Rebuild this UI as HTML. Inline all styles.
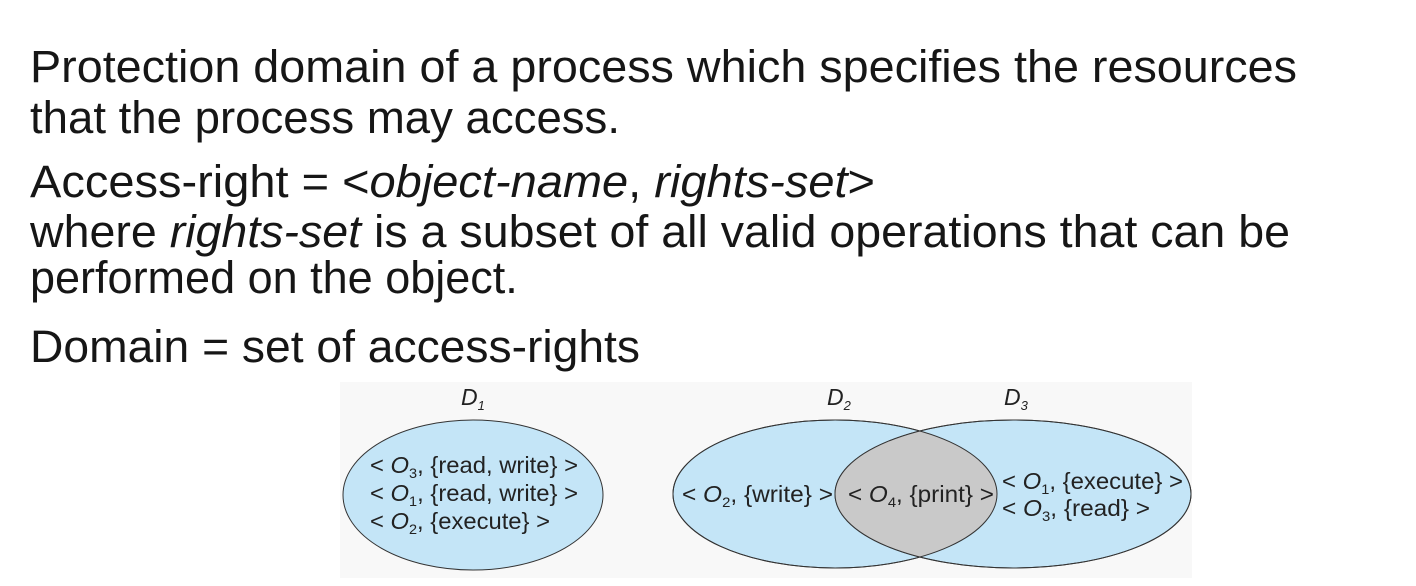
<!DOCTYPE html>
<html><head><meta charset="utf-8"><style>
html,body{margin:0;padding:0;background:#fff;}
svg{display:block;}
.t{font-family:"Liberation Sans",sans-serif;font-size:45px;fill:#161616;}
.d{font-family:"Liberation Sans",sans-serif;font-size:23px;fill:#222;}
</style></head><body>
<svg width="1416" height="586" viewBox="0 0 1416 586" xmlns="http://www.w3.org/2000/svg">
<rect width="1416" height="586" fill="#fff"/>
<text class="t" x="30" y="82" textLength="1267" lengthAdjust="spacingAndGlyphs">Protection domain of a process which specifies the resources</text>
<text class="t" x="30" y="133" textLength="590" lengthAdjust="spacingAndGlyphs">that the process may access.</text>
<text class="t" x="30" y="197" textLength="845" lengthAdjust="spacingAndGlyphs">Access-right = &lt;<tspan font-style="italic">object-name</tspan>, <tspan font-style="italic">rights-set</tspan>&gt;</text>
<text class="t" x="30" y="247" textLength="1260" lengthAdjust="spacingAndGlyphs">where <tspan font-style="italic">rights-set</tspan> is a subset of all valid operations that can be</text>
<text class="t" x="30" y="293">performed on the object.</text>
<text class="t" x="30" y="362" textLength="610" lengthAdjust="spacingAndGlyphs">Domain = set of access-rights</text>

<rect x="340" y="382" width="852" height="196" fill="#f8f8f8"/>
<defs><clipPath id="c2"><ellipse cx="835" cy="494" rx="162" ry="74"/></clipPath></defs>
<ellipse cx="473" cy="495" rx="130" ry="75" fill="#c4e5f7" stroke="#333" stroke-width="1"/>
<ellipse cx="835" cy="494" rx="162" ry="74" fill="#c4e5f7" stroke="#333" stroke-width="1"/>
<ellipse cx="1013" cy="494" rx="178" ry="74" fill="#c4e5f7" stroke="#333" stroke-width="1"/>
<ellipse cx="1013" cy="494" rx="178" ry="74" fill="#c9c9c9" clip-path="url(#c2)"/>
<ellipse cx="835" cy="494" rx="162" ry="74" fill="none" stroke="#333" stroke-width="1"/>
<ellipse cx="1013" cy="494" rx="178" ry="74" fill="none" stroke="#333" stroke-width="1"/>

<text class="d" x="461" y="405" font-style="italic">D<tspan font-size="13" dy="5">1</tspan></text>
<text class="d" x="827" y="405" font-style="italic">D<tspan font-size="13" dy="5">2</tspan></text>
<text class="d" x="1004" y="405" font-style="italic">D<tspan font-size="13" dy="5">3</tspan></text>

<text class="d" x="370" y="473" textLength="208" lengthAdjust="spacingAndGlyphs">&lt; <tspan font-style="italic">O</tspan><tspan font-size="14" dy="5">3</tspan><tspan dy="-5">, {read, write} &gt;</tspan></text>
<text class="d" x="370" y="501" textLength="208" lengthAdjust="spacingAndGlyphs">&lt; <tspan font-style="italic">O</tspan><tspan font-size="14" dy="5">1</tspan><tspan dy="-5">, {read, write} &gt;</tspan></text>
<text class="d" x="370" y="529" textLength="180" lengthAdjust="spacingAndGlyphs">&lt; <tspan font-style="italic">O</tspan><tspan font-size="14" dy="5">2</tspan><tspan dy="-5">, {execute} &gt;</tspan></text>
<text class="d" x="682" y="502" textLength="151" lengthAdjust="spacingAndGlyphs">&lt; <tspan font-style="italic">O</tspan><tspan font-size="14" dy="5">2</tspan><tspan dy="-5">, {write} &gt;</tspan></text>
<text class="d" x="848" y="502" textLength="146" lengthAdjust="spacingAndGlyphs">&lt; <tspan font-style="italic">O</tspan><tspan font-size="14" dy="5">4</tspan><tspan dy="-5">, {print} &gt;</tspan></text>
<text class="d" x="1002" y="489" textLength="181" lengthAdjust="spacingAndGlyphs">&lt; <tspan font-style="italic">O</tspan><tspan font-size="14" dy="5">1</tspan><tspan dy="-5">, {execute} &gt;</tspan></text>
<text class="d" x="1002" y="516" textLength="148" lengthAdjust="spacingAndGlyphs">&lt; <tspan font-style="italic">O</tspan><tspan font-size="14" dy="5">3</tspan><tspan dy="-5">, {read} &gt;</tspan></text>
</svg>
</body></html>
